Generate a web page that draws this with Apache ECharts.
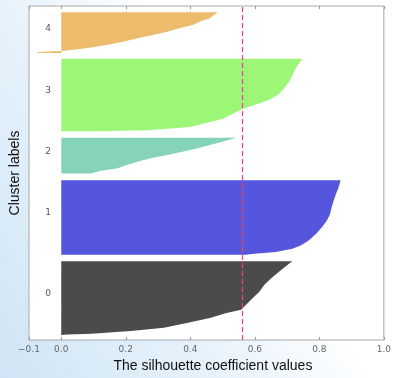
<!DOCTYPE html>
<html>
<head>
<meta charset="utf-8">
<script src="https://cdn.jsdelivr.net/npm/echarts@6/dist/echarts.min.js"></script>
<style>
html,body{margin:0;padding:0;}
body{background:linear-gradient(60deg,#cfe4f5 0%,#e6f2fb 35%,#ffffff 62%);}
#chart{width:394px;height:378px;}
</style>
</head>
<body>
<div id="chart"></div>
<script>
// ---- data ----
const clusterNames = ['0', '1', '2', '3', '4'];
const xTickValues = [-0.1, 0.0, 0.2, 0.4, 0.6, 0.8, 1.0];
const silhouetteAvg = 0.564;
const yMax = 560;
// each profile: [silhouette value, sample position], sorted from bottom to top
const cluster0Profile = [[-0.008, 8.3], [0.02, 9.3], [0.093, 10.5], [0.216, 15], [0.318, 20.4], [0.389, 28.7], [0.461, 37], [0.512, 45.3], [0.558, 50.8], [0.573, 59], [0.593, 70], [0.614, 81], [0.629, 92.2], [0.65, 103], [0.675, 114.3], [0.70, 125.4], [0.716, 132]];
const cluster1Profile = [[0.573, 143], [0.59, 144], [0.665, 147.4], [0.716, 152.9], [0.742, 158.5], [0.767, 166.8], [0.79, 178], [0.808, 189], [0.823, 200], [0.833, 211], [0.838, 222], [0.844, 233], [0.851, 244], [0.859, 255], [0.866, 268]];
const cluster2Profile = [[0.09, 279], [0.124, 283.8], [0.175, 288], [0.205, 293.9], [0.236, 299], [0.277, 304.8], [0.328, 310], [0.379, 316], [0.42, 321], [0.461, 327], [0.50, 332.5], [0.542, 339]];
const cluster3Profile = [[0.11, 350], [0.267, 351.8], [0.399, 357.3], [0.461, 365.6], [0.501, 371.1], [0.532, 379.4], [0.563, 387.7], [0.61, 396], [0.65, 404.2], [0.675, 412.5], [0.693, 423.6], [0.708, 434.6], [0.718, 445.7], [0.728, 456.7], [0.742, 467.8], [0.747, 471.6]];
const cluster4Profile = [[-0.072, 481], [-0.072, 483], [0.011, 485], [0.083, 489.6], [0.144, 495], [0.195, 500.6], [0.236, 506], [0.287, 511.6], [0.328, 517], [0.369, 523], [0.41, 528.5], [0.43, 534], [0.461, 539.5], [0.473, 545], [0.486, 549.5]];

const profiles = [cluster0Profile, cluster1Profile, cluster2Profile, cluster3Profile, cluster4Profile];
const clusterColors = ['#4b4b4b', '#5555de', '#85d4b8', '#9cf776', '#ecbc6c'];

function clusterSeries(i) {
  const profile = profiles[i];
  return {
    type: 'custom',
    name: clusterNames[i],
    data: profile,
    encode: { x: 0, y: 1 },
    silent: true,
    renderItem: function (params, api) {
      if (params.dataIndex !== 0) return null;
      const first = profile[0], last = profile[profile.length - 1];
      const pts = [api.coord([0, first[1]])];
      profile.forEach(p => pts.push(api.coord(p)));
      pts.push(api.coord([0, last[1]]));
      const lp = api.coord([-0.05, (first[1] + last[1]) / 2]);
      return {
        type: 'group',
        children: [
          { type: 'polygon', shape: { points: pts }, style: { fill: clusterColors[i] } },
          { type: 'text', x: lp[0], y: lp[1],
            style: { text: clusterNames[i], fill: '#555', fontSize: 9, fontFamily: 'DejaVu Sans', align: 'left', verticalAlign: 'bottom' } }
        ]
      };
    }
  };
}

const fmt = v => (v < 0 ? '\u2212' : '') + Math.abs(v).toFixed(1);

const chart = echarts.init(document.getElementById('chart'), null, { renderer: 'canvas' });
chart.setOption({
  animation: false,
  backgroundColor: 'transparent',
  grid: { left: 27, right: 8, top: 6, bottom: 34, show: true, backgroundColor: '#ffffff', borderColor: '#a8a8a8', borderWidth: 1 },
  xAxis: [{
    type: 'value', min: -0.1, max: 1.0, position: 'bottom',
    name: 'The silhouette coefficient values', nameLocation: 'middle', nameGap: 19,
    nameTextStyle: { fontSize: 14, color: '#111', fontFamily: 'Liberation Sans', padding: [0, 0, 0, 13] },
    axisLine: { show: false },
    splitLine: { show: false },
    axisTick: { show: true, inside: true, length: 3, customValues: xTickValues, lineStyle: { color: '#999' } },
    axisLabel: { customValues: xTickValues, formatter: fmt, margin: 5, fontSize: 9, color: '#666', fontFamily: 'DejaVu Sans' }
  }, {
    type: 'value', min: -0.1, max: 1.0, position: 'top',
    axisLine: { show: false },
    splitLine: { show: false },
    axisTick: { show: true, inside: true, length: 3, customValues: xTickValues, lineStyle: { color: '#999' } },
    axisLabel: { show: false }
  }],
  yAxis: {
    type: 'value', min: 0, max: yMax,
    name: 'Cluster labels', nameLocation: 'middle', nameGap: 7,
    nameTextStyle: { fontSize: 14, color: '#111', fontFamily: 'Liberation Sans' },
    axisLine: { show: false }, axisTick: { show: false }, axisLabel: { show: false }, splitLine: { show: false }
  },
  series: [0, 1, 2, 3, 4].map(clusterSeries).concat([{
    type: 'line', data: [], silent: true,
    markLine: {
      silent: true, symbol: ['none', 'none'], label: { show: false },
      lineStyle: { color: '#c4567e', type: [5, 3], width: 1.2 },
      data: [{ xAxis: silhouetteAvg }]
    }
  }])
});
</script>
</body>
</html>
